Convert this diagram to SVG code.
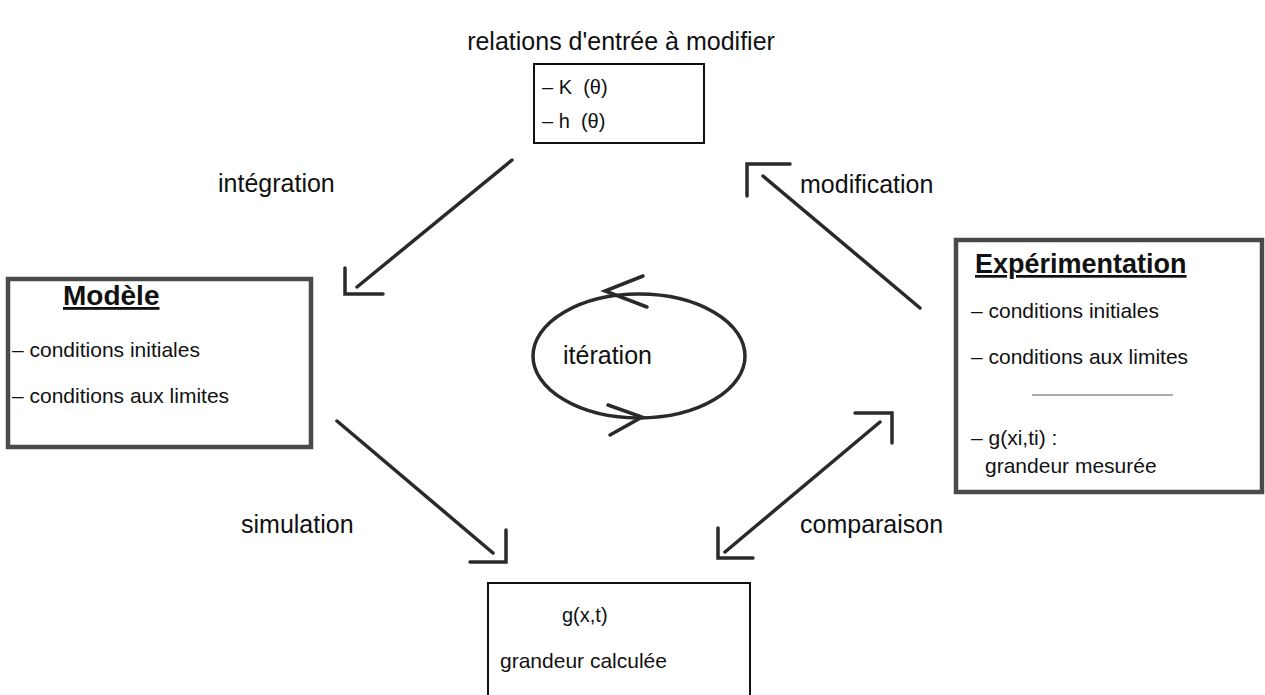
<svg xmlns="http://www.w3.org/2000/svg" width="1265" height="695" viewBox="0 0 1265 695">
<style>
text{font-family:"Liberation Sans",Arial,sans-serif;fill:#111}
.lbl{font-size:25px}
.t{font-size:21px}
.k{font-size:20px}
.h{font-size:28px;font-weight:bold;text-decoration:underline}
.he{font-size:27px;font-weight:bold;text-decoration:underline}
.thin{fill:#fff;stroke:#111;stroke-width:2}
.thick{fill:#fff;stroke:#4a4a4a;stroke-width:4.5}
.c{fill:none;stroke:#2a2a2a;stroke-width:3.5;stroke-linecap:round;stroke-linejoin:miter}
</style>
<rect width="1265" height="695" fill="#fff"/>
<text class="lbl" x="621" y="50" text-anchor="middle">relations d'entrée à modifier</text>
<g id="relations">
<rect class="thin" x="534" y="64" width="170" height="79"/>
<text class="k" x="542" y="94" xml:space="preserve">– K  (θ)</text>
<text class="k" x="542" y="128" xml:space="preserve">– h  (θ)</text>
</g>
<g id="modele">
<rect class="thick" x="8" y="279" width="303" height="168"/>
<text class="h" x="63" y="305">Modèle</text>
<text class="t" x="12" y="357">– conditions initiales</text>
<text class="t" x="12" y="403">– conditions aux limites</text>
</g>
<g id="experimentation">
<rect class="thick" x="956" y="240" width="306" height="252"/>
<text class="he" x="975" y="273">Expérimentation</text>
<text class="t" x="971" y="318">– conditions initiales</text>
<text class="t" x="971" y="364">– conditions aux limites</text>
<line x1="1032" y1="395" x2="1173" y2="395" stroke="#555" stroke-width="1.2"/>
<text class="t" x="971" y="445">– g(xi,ti) :</text>
<text class="t" x="985" y="473">grandeur mesurée</text>
</g>
<g id="calcul">
<rect class="thin" x="488" y="583" width="262" height="130"/>
<text class="k" x="562" y="622">g(x,t)</text>
<text class="t" x="500" y="668">grandeur calculée</text>
</g>
<g id="iteration">
<ellipse cx="639" cy="356" rx="106" ry="62" class="c"/>
<polyline class="c" points="643,276 605,291 647,307"/>
<polyline class="c" points="608,405 642,417 610,435"/>
<text class="lbl" x="563" y="364">itération</text>
</g>
<g id="connectors">
<line class="c" x1="512" y1="160" x2="357" y2="287"/>
<polyline class="c" points="345,268 345,294 383,294"/>
<line class="c" x1="920" y1="308" x2="763" y2="176"/>
<polyline class="c" points="790,164 747,164 747,196"/>
<line class="c" x1="337" y1="421" x2="493" y2="553"/>
<polyline class="c" points="470,562 506,562 506,530"/>
<line class="c" x1="725" y1="552" x2="880" y2="422"/>
<polyline class="c" points="855,413 892,413 892,443"/>
<polyline class="c" points="718,528 718,558 753,558"/>
</g>
<text class="lbl" x="218" y="192">intégration</text>
<text class="lbl" x="800" y="193">modification</text>
<text class="lbl" x="241" y="533">simulation</text>
<text class="lbl" x="800" y="533">comparaison</text>
</svg>
